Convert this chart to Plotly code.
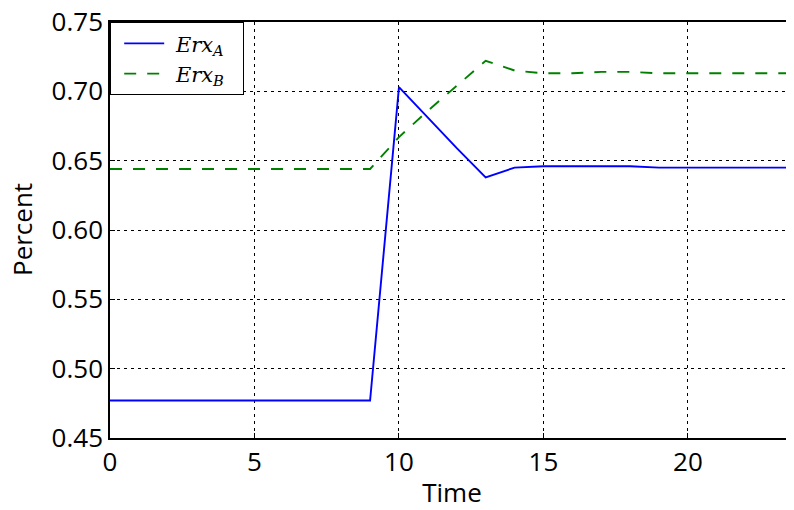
import plotly.graph_objects as go

time = list(range(0, 25))
erx_a = [0.477]*10 + [0.703, 0.681, 0.659, 0.638, 0.645, 0.646, 0.646, 0.646, 0.646,
                      0.645, 0.645, 0.645, 0.645, 0.645, 0.645]
erx_b = [0.644]*10 + [0.667, 0.686, 0.704, 0.722, 0.715, 0.713, 0.713, 0.714, 0.714,
                      0.713, 0.713, 0.713, 0.713, 0.713, 0.713]
x_ticks = [0, 5, 10, 15, 20]
y_ticks = [0.45, 0.50, 0.55, 0.60, 0.65, 0.70, 0.75]
names = ["&nbsp;<i>Erx</i><sub><i>A</i></sub>&nbsp;&nbsp;",
         "&nbsp;<i>Erx</i><sub><i>B</i></sub>&nbsp;&nbsp;"]

fig = go.Figure()
fig.add_trace(go.Scatter(x=time, y=erx_a, mode="lines", name=names[0],
                         line=dict(color="#0000ff", width=1.9)))
fig.add_trace(go.Scatter(x=time, y=erx_b, mode="lines", name=names[1],
                         line=dict(color="#008000", width=1.9, dash="12px,11px")))

font = "Open Sans, DejaVu Sans, sans-serif"
fig.update_layout(
    width=786, height=502,
    margin=dict(l=102, r=0, t=14, b=72, autoexpand=False),
    paper_bgcolor="white", plot_bgcolor="white",
    font=dict(family=font, size=26, color="black"),
    legend=dict(x=0, y=1, xanchor="left", yanchor="top",
                bordercolor="black", borderwidth=1.2, bgcolor="white",
                font=dict(family="DejaVu Serif, Liberation Serif, serif", size=21),
                itemwidth=40, indentation=8),
    showlegend=True,
    annotations=[dict(text="Percent", xref="paper", yref="paper",
                      x=-88 / 684, y=0.5,
                      xanchor="center", yanchor="middle", textangle=-90,
                      showarrow=False, font=dict(family=font, size=26))],
)
fig.update_xaxes(
    range=[0, 23.67], tickvals=x_ticks, ticktext=[str(v) for v in x_ticks],
    showgrid=True, gridcolor="black", griddash="3px,4px", gridwidth=1.3,
    showline=True, linecolor="black", linewidth=1.5, mirror=True,
    ticks="inside", ticklen=5, tickcolor="black", zeroline=False,
    title=dict(text="Time", font=dict(size=26), standoff=8),
    tickfont=dict(size=26), ticklabeloverflow="allow",
)
fig.update_yaxes(
    range=[0.45, 0.75], tickvals=y_ticks, ticktext=[f"{v:.2f}" for v in y_ticks],
    showgrid=True, gridcolor="black", griddash="3px,4px", gridwidth=1.3,
    showline=True, linecolor="black", linewidth=1.5, mirror=False,
    ticks="inside", ticklen=5, tickcolor="black", zeroline=False,
    tickfont=dict(size=26), ticklabeloverflow="allow",
)
fig.write_html("out.html")
